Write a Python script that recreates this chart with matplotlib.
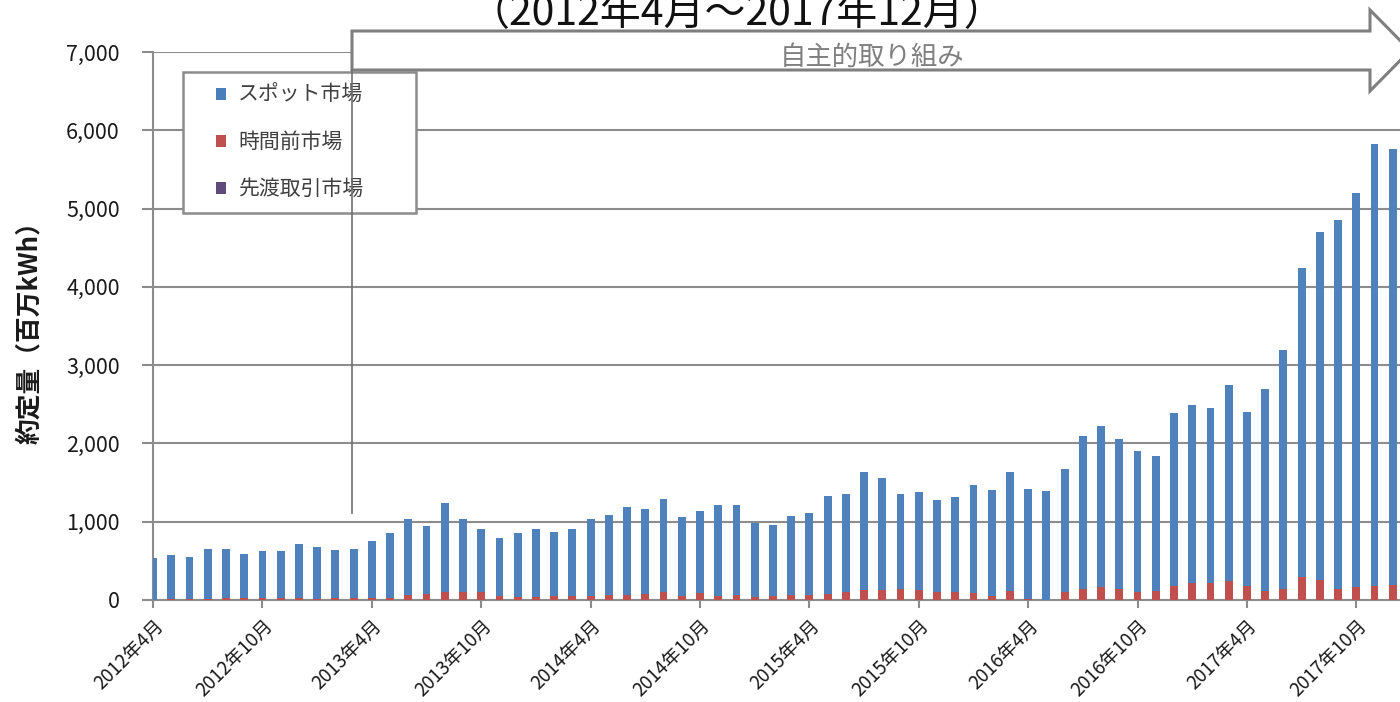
import matplotlib
matplotlib.use("Agg")
import matplotlib.pyplot as plt
from matplotlib.patches import Patch, Polygon, Rectangle
from matplotlib.lines import Line2D
import numpy as np

plt.rcParams["font.family"] = ["Noto Sans CJK JP", "DejaVu Sans"]

# Monthly categories, April 2012 to December 2017
start_year, start_month, n_months = 2012, 4, 69
months = [f"{start_year + (start_month - 1 + i) // 12}年{(start_month - 1 + i) % 12 + 1}月"
          for i in range(n_months)]

# Contracted volume by market (million kWh)
spot = [528, 566, 545, 636, 631, 565, 609, 609, 692, 671, 613, 635,
        735, 831, 978, 856, 1135, 943, 817, 734, 817, 874, 817, 865,
        991, 1029, 1124, 1074, 1183, 1013, 1052, 1162, 1149, 947, 904, 1018,
        1048, 1249, 1258, 1502, 1436, 1219, 1253, 1170, 1218, 1380, 1362, 1528,
        1410, 1392, 1575, 1955, 2058, 1920, 1794, 1725, 2211, 2282, 2232, 2506,
        2221, 2575, 3045, 3945, 4445, 4705, 5028, 5646, 5569]
intraday = [5, 10, 10, 15, 20, 20, 20, 20, 20, 10, 20, 20,
            25, 25, 61, 83, 105, 96, 96, 52, 39, 39, 48, 48,
            48, 61, 61, 83, 105, 48, 83, 48, 61, 31, 48, 61,
            61, 83, 96, 127, 127, 135, 131, 105, 96, 83, 48, 112,
            5, 5, 100, 135, 162, 140, 106, 115, 179, 213, 213, 234,
            179, 115, 140, 285, 255, 140, 162, 179, 191]
forward = [0, 0, 0, 0, 0, 0, 0, 0, 0, 0, 0, 0,
           0, 0, 0, 0, 0, 0, 0, 0, 0, 0, 0, 0,
           0, 0, 0, 0, 0, 0, 1, 0, 0, 1, 0, 0,
           1, 0, 1, 0, 1, 1, 0, 1, 1, 2, 1, 1,
           2, 1, 2, 2, 3, 2, 2, 3, 3, 2, 3, 4,
           3, 3, 4, 5, 4, 3, 4, 5, 4]

series_names = ["スポット市場", "時間前市場", "先渡取引市場"]
series_colors = ["#4F81BD", "#C0504D", "#8064A2"]
legend_colors = ["#4A7EBB", "#C0504D", "#604A7B"]

ytick_values = [0, 1000, 2000, 3000, 4000, 5000, 6000, 7000]
ytick_labels = ["0", "1,000", "2,000", "3,000", "4,000", "5,000", "6,000", "7,000"]
xtick_step = 6

title_text = "（2012年4月～2017年12月）"
ylabel_text = "約定量（百万kWh）"
arrow_text = "自主的取り組み"

W, H = 1400, 702
fig = plt.figure(figsize=(W / 100, H / 100), dpi=100)


def fx(px):
    return px / W


def fy(py):
    return 1 - py / H


grid_col = "#8C8C8C"
slot = 18.23
ax = fig.add_axes([fx(153.1), fy(600), 70 * slot / W, (600 - 52) / H])

x = np.arange(len(months))
spot_a = np.array(spot, dtype=float)
intra_a = np.array(intraday, dtype=float)
fwd_a = np.array(forward, dtype=float)
bw = 0.43
# Stack from the base: forward, intraday, then spot on top
ax.bar(x, fwd_a, width=bw, color=series_colors[2], zorder=3)
ax.bar(x, intra_a, width=bw, bottom=fwd_a, color=series_colors[1], zorder=3)
ax.bar(x, spot_a, width=bw, bottom=fwd_a + intra_a, color=series_colors[0], zorder=3)

ax.set_xlim(0, 70)
ax.set_ylim(0, 7000)
ax.set_yticks(ytick_values)
ax.set_yticklabels(ytick_labels, fontsize=15.5, color="#1a1a1a")
xt = x[::xtick_step]
ax.set_xticks(xt)
ax.set_xticklabels([months[i] for i in xt], rotation=45, ha="right",
                   rotation_mode="anchor", fontsize=13.5, color="#1a1a1a")
ax.yaxis.grid(True, color=grid_col, lw=1.5)
ax.set_axisbelow(True)
for s in ("top", "right"):
    ax.spines[s].set_visible(False)
for s in ("left", "bottom"):
    ax.spines[s].set_color(grid_col)
    ax.spines[s].set_linewidth(1.5)
ax.tick_params(axis="y", length=8, width=1.5, color=grid_col, pad=16)
ax.tick_params(axis="x", length=6, width=1.5, color=grid_col, pad=5)

# Legend with its own frame
fig.add_artist(Rectangle((fx(183), fy(213)), (416 - 183) / W, (213 - 72) / H,
                         transform=fig.transFigure, facecolor="white",
                         edgecolor=grid_col, lw=1.8, zorder=1))
handles = [Patch(facecolor=c, edgecolor="none") for c in legend_colors]
leg = fig.legend(handles, series_names, loc="center left",
                 bbox_to_anchor=(fx(216), fy(142)), bbox_transform=fig.transFigure,
                 frameon=False, fontsize=15, handlelength=0.5, handleheight=0.5,
                 handletextpad=0.55, labelspacing=1.2, borderpad=0, borderaxespad=0)
for t in leg.get_texts():
    t.set_color("#404040")
leg.set_zorder(5)

# Arrow marking the voluntary-effort period
arrow_px = [(352, 31), (1370, 31), (1370, 10), (1410, 50.5), (1370, 91), (1370, 70), (352, 70)]
fig.add_artist(Polygon([(fx(a), fy(b)) for a, b in arrow_px], closed=True,
                       transform=fig.transFigure, facecolor="white",
                       edgecolor="#7F7F7F", lw=2.2, zorder=6))
fig.text(fx(872), fy(57), arrow_text, ha="center", va="center", fontsize=19,
         color="#7F7F7F", zorder=7)
fig.add_artist(Line2D([fx(352), fx(352)], [fy(70), fy(513)], transform=fig.transFigure,
                      color="#6F6F6F", lw=1.2, zorder=6))

fig.text(fx(737), fy(25), title_text, ha="center", va="baseline", fontsize=29.5,
         color="#111111")
fig.text(fx(30), fy(326), ylabel_text, rotation=90, ha="center", va="center",
         fontsize=18.5, fontweight="bold", color="#1a1a1a")

fig.savefig("out.png", dpi=100)
